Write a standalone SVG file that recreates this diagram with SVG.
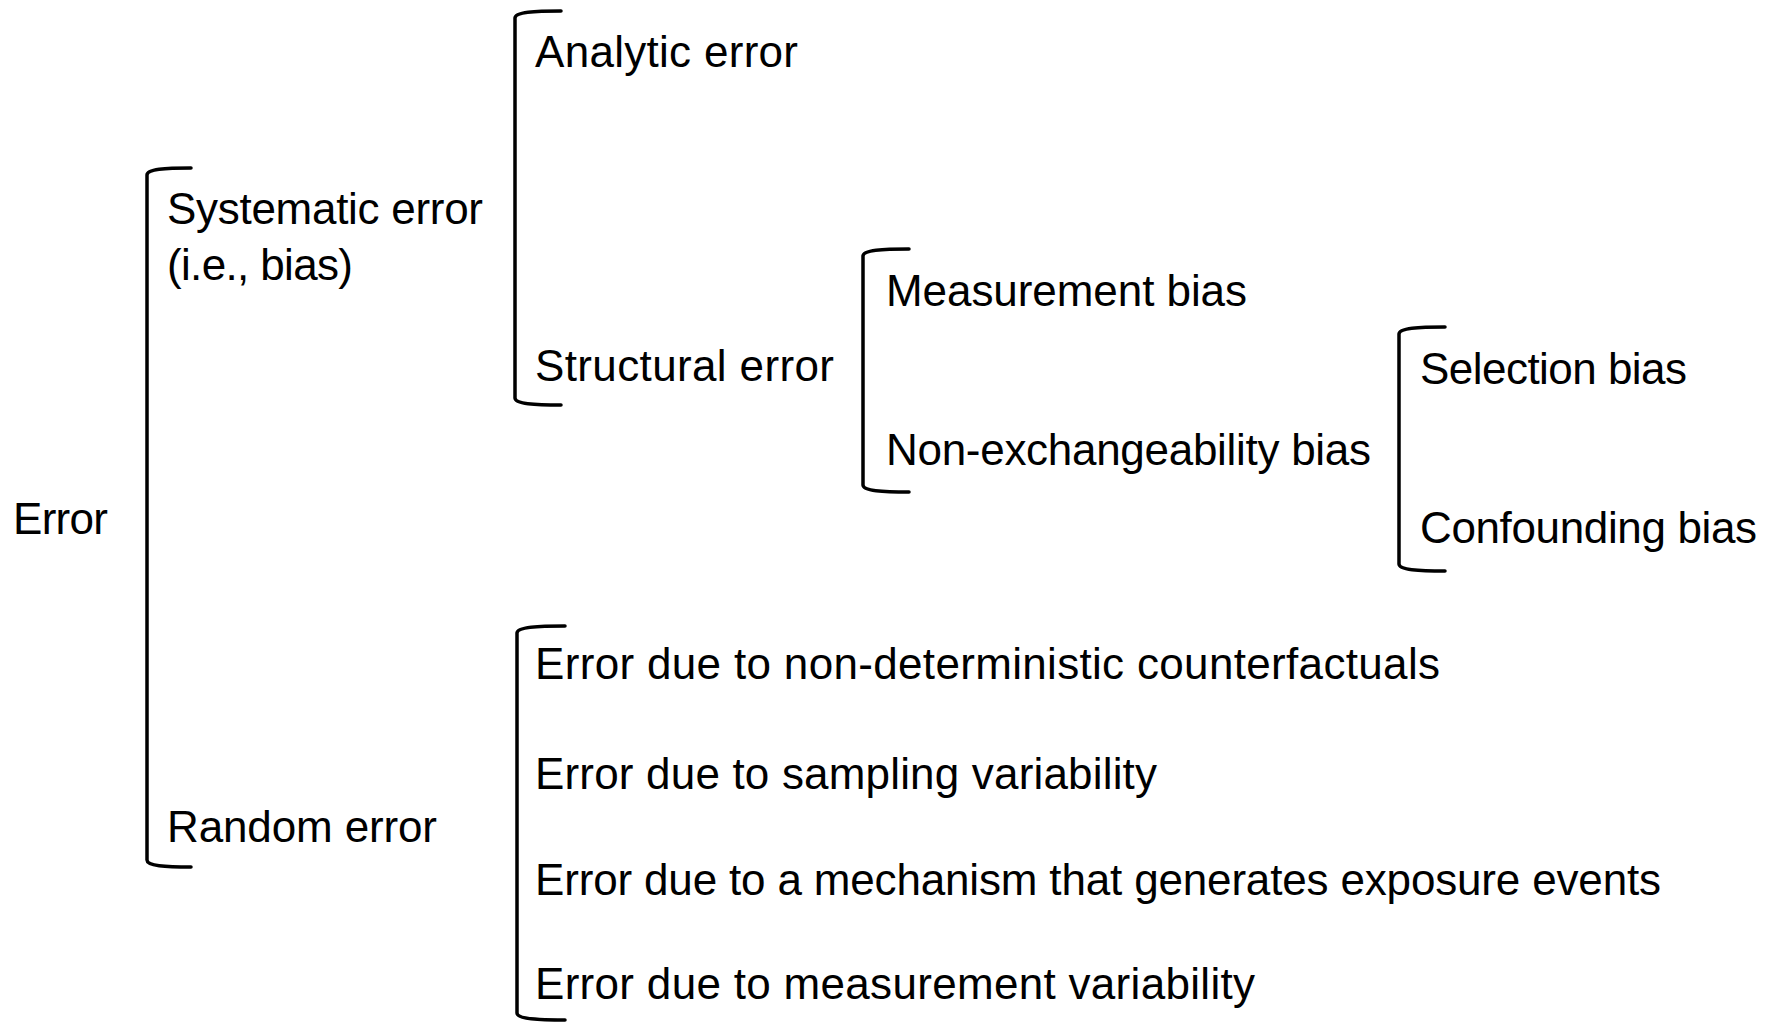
<svg xmlns="http://www.w3.org/2000/svg" width="1781" height="1023" viewBox="0 0 1781 1023">
<style>
  text { font-family: "Liberation Sans", Arial, sans-serif; font-size: 44px; fill: #000; }
  .br { fill: none; stroke: #000; stroke-width: 3.5; stroke-linecap: round; stroke-linejoin: round; }
</style>
<rect width="1781" height="1023" fill="#fff"/>
<g id="connectors">
  <path class="br" d="M191,168 C165,168 147,169 147,175 L147,860 C147,866 165,867 191,867"/>
  <path class="br" d="M561,11 C535,11 515,12 515,18 L515,398 C515,404 535,405 561,405"/>
  <path class="br" d="M909,249 C883,249 863,250 863,256 L863,485 C863,491 883,492 909,492"/>
  <path class="br" d="M1445,327 C1419,327 1399,328 1399,334 L1399,564 C1399,570 1419,571 1445,571"/>
  <path class="br" d="M565,626 C539,626 517,627 517,633 L517,1013 C517,1019 539,1020 565,1020"/>
</g>
<g id="error"><text x="13" y="534" textLength="95" lengthAdjust="spacing">Error</text></g>
<g id="systematic"><text x="167" y="224" textLength="316" lengthAdjust="spacing">Systematic error</text><text x="167" y="280" textLength="186" lengthAdjust="spacing">(i.e., bias)</text></g>
<g id="random"><text x="167" y="842" textLength="270" lengthAdjust="spacing">Random error</text></g>
<g id="analytic"><text x="535" y="67" textLength="263" lengthAdjust="spacing">Analytic error</text></g>
<g id="structural"><text x="535" y="381" textLength="299" lengthAdjust="spacing">Structural error</text></g>
<g id="measurement"><text x="886" y="306" textLength="361" lengthAdjust="spacing">Measurement bias</text></g>
<g id="nonexch"><text x="886" y="465" textLength="485" lengthAdjust="spacing">Non-exchangeability bias</text></g>
<g id="selection"><text x="1420" y="384" textLength="267" lengthAdjust="spacing">Selection bias</text></g>
<g id="confounding"><text x="1420" y="543" textLength="337" lengthAdjust="spacing">Confounding bias</text></g>
<g id="nondet"><text x="535" y="679" textLength="905" lengthAdjust="spacing">Error due to non-deterministic counterfactuals</text></g>
<g id="sampling"><text x="535" y="789" textLength="622" lengthAdjust="spacing">Error due to sampling variability</text></g>
<g id="mechanism"><text x="535" y="895" textLength="1126" lengthAdjust="spacing">Error due to a mechanism that generates exposure events</text></g>
<g id="measvar"><text x="535" y="999" textLength="720" lengthAdjust="spacing">Error due to measurement variability</text></g>
</svg>
